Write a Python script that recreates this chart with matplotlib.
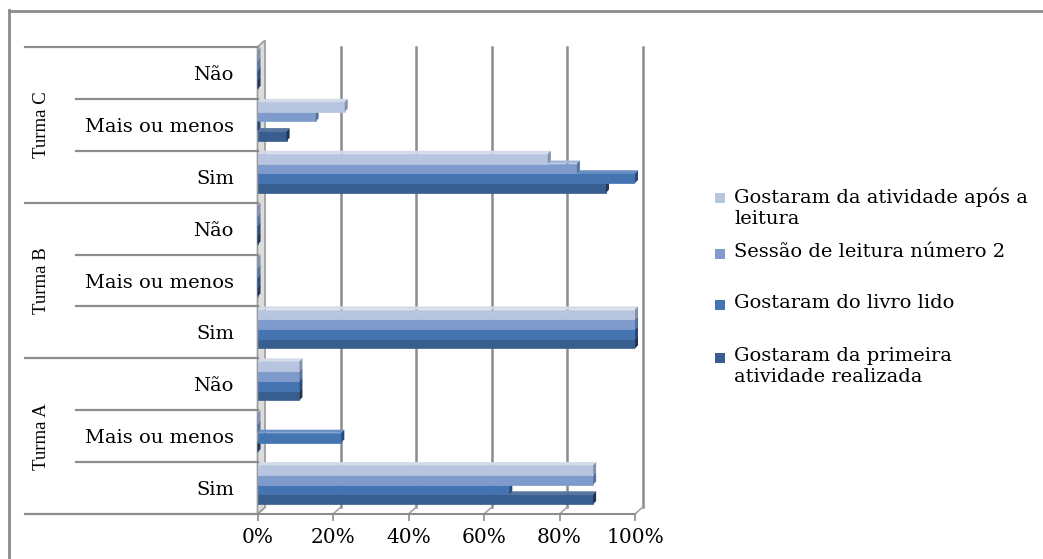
import numpy as np
import matplotlib.pyplot as plt
from matplotlib.patches import Polygon
from matplotlib.lines import Line2D
from matplotlib.transforms import blended_transform_factory

plt.rcParams['font.family'] = ['DejaVu Serif']
plt.rcParams['font.size'] = 14

turmas = ['Turma A', 'Turma B', 'Turma C']
respostas = ['Sim', 'Mais ou menos', 'Não']

# séries de baixo para cima dentro de cada linha
series = ['Gostaram da primeira\natividade realizada',
          'Gostaram do livro lido',
          'Sessão de leitura número 2',
          'Gostaram da atividade após a\nleitura']

# Turma A (Sim, Mais ou menos, Não), Turma B (...), Turma C (...)
primeira = [88.9, 0, 11.1, 100, 0, 0, 92.3, 7.7, 0]
livro = [66.7, 22.2, 11.1, 100, 0, 0, 100, 0, 0]
sessao = [88.9, 0, 11.1, 100, 0, 0, 84.6, 15.4, 0]
apos = [88.9, 0, 11.1, 100, 0, 0, 76.9, 23.1, 0]
valores = [primeira, livro, sessao, apos]

xticks = [0, 20, 40, 60, 80, 100]
xlabels = ['0%', '20%', '40%', '60%', '80%', '100%']

cores = ['#385E8F', '#4574B3', '#7E9BCB', '#B8C5E0']
laterais = ['#1F3553', '#264B7C', '#55739F', '#8391AD']
topos = ['#5676A0', '#6A8FC4', '#A3B7DA', '#D3DAE8']
cinza = '#8c8c8c'

W, H = 1043, 559
fig = plt.figure(figsize=(W / 100, H / 100), dpi=100)

ax = fig.add_axes([257.5 / W, 45 / H, 377.5 / W, 467 / H])
ax.set_xlim(0, 100)
ax.set_ylim(0, 9)
for s in ax.spines.values():
    s.set_visible(False)

n_linhas = len(primeira)
DX, DY = 0.8, 0.06      # profundidade da face lateral
GX, GY = 2.0, 0.13      # deslocamento da parede do fundo
h = 0.1875
base = 0.19

# parede esquerda
ax.add_patch(Polygon([(0, 0), (GX, GY), (GX, 9 + GY), (0, 9)], closed=True,
                     facecolor='#dcdcdc', edgecolor='#9a9a9a', lw=1.2,
                     zorder=1, clip_on=False))

# grade no fundo e piso
for t in xticks[1:]:
    ax.plot([t + GX, t + GX], [GY, 9], color=cinza, lw=1.8, zorder=0, clip_on=False)
for t in xticks:
    ax.plot([t, t + GX], [0, GY], color='#a6a6a6', lw=1.2, zorder=0, clip_on=False)
ax.plot([0, 100], [0, 0], color=cinza, lw=1.5, zorder=0, clip_on=False)

linhas = np.arange(n_linhas)
for k, vals in enumerate(valores):
    y0 = linhas + base + k * h
    ax.barh(y0, vals, height=h, align='edge', color=cores[k],
            edgecolor=cores[k], lw=0.5, zorder=2 + k)
    for y, v in zip(y0, vals):
        ax.add_patch(Polygon([(0, y + h), (v, y + h), (v + DX, y + h + DY), (DX, y + h + DY)],
                             closed=True, facecolor=topos[k], edgecolor='none',
                             zorder=2 + k, clip_on=False))
        ax.add_patch(Polygon([(v, y), (v + DX, y + DY), (v + DX, y + h + DY), (v, y + h)],
                             closed=True, facecolor=laterais[k], edgecolor='none',
                             zorder=2 + k, clip_on=False))

# eixo x
ax.set_xticks(xticks)
ax.set_xticklabels(xlabels)
ax.tick_params(axis='x', length=5, width=1.2, color=cinza, pad=5, labelsize=14.5)

# rótulos das respostas
ax.set_yticks(linhas + 0.5)
ax.set_yticklabels(respostas * 3)
ax.tick_params(axis='y', length=0, pad=17, labelsize=14)

# linhas separadoras à esquerda
trans = blended_transform_factory(fig.transFigure, ax.transData)
for i in range(n_linhas + 1):
    x0 = 25 / W if i % 3 == 0 else 76 / W
    fig.add_artist(Line2D([x0, 257.5 / W], [i, i], transform=trans,
                          color=cinza, lw=1.6))

for g, nome in enumerate(turmas):
    fig.text(42 / W, 3 * g + 1.5, nome, transform=trans, rotation=90,
             ha='center', va='center', fontsize=13.5, family='Liberation Serif')

# borda do gráfico
fig.add_artist(Line2D([9 / W, 9 / W], [0, 1 - 10 / H], color=cinza, lw=2))
fig.add_artist(Line2D([9 / W, 1], [1 - 11 / H, 1 - 11 / H], color=cinza, lw=2))

# legenda
leg_y = [198, 254, 305, 358]   # primeira linha de cada item
for yp, k in zip(leg_y, [3, 2, 1, 0]):
    fig.patches.append(plt.Rectangle((715 / W, 1 - (yp + 5) / H), 10 / W, 10 / H,
                                     transform=fig.transFigure, facecolor=cores[k],
                                     edgecolor='none', figure=fig))
    fig.text(734 / W, 1 - (yp - 11) / H, series[k], ha='left', va='top',
             fontsize=14, linespacing=1.22)

fig.savefig('out.png', dpi=100)
